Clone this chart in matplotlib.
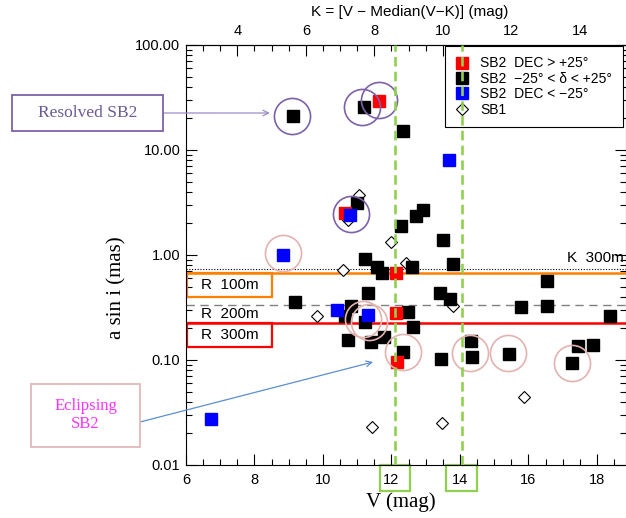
import numpy as np
import matplotlib.pyplot as plt
from matplotlib.patches import Rectangle
from matplotlib import transforms
from matplotlib.ticker import MultipleLocator, LogLocator, FixedLocator, NullFormatter

plt.rcParams["font.family"] = ["Liberation Sans", "DejaVu Sans"]

W, H = 626, 518

# SB2, DEC > +25 deg
red_v = [11.64, 10.64, 12.12, 12.12, 12.15]
red_a = [29.5, 2.50, 0.669, 0.278, 0.095]

# SB2, -25 < dec < +25 deg
blk_v = [9.13, 11.21, 12.34, 10.98, 12.91, 12.72, 12.28, 13.51, 11.24, 11.57,
         11.71, 12.61, 13.80, 16.53, 11.32, 13.42, 13.71, 9.18, 10.81, 10.64,
         11.23, 12.47, 12.64, 15.77, 16.55, 18.38, 10.72, 11.41, 11.79, 12.34,
         13.45, 14.31, 14.36, 15.44, 17.45, 17.89, 17.28]
blk_a = [21.1, 25.4, 15.2, 3.11, 2.71, 2.35, 1.89, 1.39, 0.91, 0.764,
         0.678, 0.764, 0.815, 0.565, 0.432, 0.432, 0.379, 0.359, 0.325, 0.262,
         0.232, 0.288, 0.208, 0.322, 0.327, 0.262, 0.156, 0.147, 0.167, 0.120,
         0.102, 0.153, 0.107, 0.113, 0.137, 0.139, 0.093]

# SB2, DEC < -25 deg
blu_v = [13.68, 10.79, 8.84, 10.42, 11.32, 6.73]
blu_a = [8.03, 2.40, 0.99, 0.30, 0.268, 0.0272]

# SB1
sb1_v = [11.05, 10.74, 11.99, 12.42, 10.59, 9.83, 13.80, 15.87, 11.42, 13.48]
sb1_a = [3.73, 2.15, 1.32, 0.845, 0.712, 0.261, 0.327, 0.0447, 0.0232, 0.0249]

# circled systems
resolved_v = [9.09, 11.13, 11.64, 10.81]
resolved_a = [21.1, 25.9, 29.9, 2.44]
eclipsing_v = [8.84, 11.17, 11.34, 12.34, 14.29, 15.41, 17.26]
eclipsing_a = [1.05, 0.248, 0.230, 0.118, 0.117, 0.117, 0.0946]

# baseline limits (mas) and magnitude limits
lim_k300 = 0.73
lim_r100 = 0.67
lim_r200 = 0.334
lim_r300 = 0.224
v_limits = [12.1, 14.05]
vk_offset = 3.5
k_ticks = [4, 6, 8, 10, 12, 14]


def fx(px):
    return px / W


def fy(py):
    return 1 - py / H


fig = plt.figure(figsize=(W / 100, H / 100), dpi=100)
ax = fig.add_axes([fx(186), fy(465), fx(440), 420 / H])
ax.set_yscale("log")
ax.set_xlim(6, 6 + 440 / 34.25)
ax.set_ylim(0.01, 100)

# reference lines
ax.axhline(lim_k300, color="black", ls=(0, (1, 1.5)), lw=0.8, zorder=1)
ax.axhline(lim_r100, color="#ff7f00", lw=1.8, zorder=1)
ax.axhline(lim_r200, color="#808080", ls=(0, (6, 4)), lw=1.0, zorder=1)
ax.axhline(lim_r300, color="#ff0000", lw=1.8, zorder=1)

ax.add_patch(Rectangle((6.03, 0.398), 2.48, lim_r100 - 0.398, fill=False,
                       ec="#ff7f00", lw=1.6, zorder=2))
ax.add_patch(Rectangle((6.03, 0.133), 2.48, lim_r300 - 0.133, fill=False,
                       ec="#ff0000", lw=1.6, zorder=2))
ax.text(7.27, 0.516, "R  100m", ha="center", va="center", fontsize=11)
ax.text(7.27, 0.272, "R  200m", ha="center", va="center", fontsize=11)
ax.text(7.27, 0.172, "R  300m", ha="center", va="center", fontsize=11)
ax.text(17.12, 0.93, "K  300m", ha="left", va="center", fontsize=11,
        clip_on=False)

# data
sq = dict(marker="s", ls="none", ms=8.5)
h_sb1, = ax.plot(sb1_v, sb1_a, marker="D", ls="none", ms=6, mfc="white",
                 mec="black", mew=0.8, zorder=3, label="SB1")
h_blk, = ax.plot(blk_v, blk_a, color="black", zorder=4,
                 label="SB2  \u221225\u00b0 < \u03b4 < +25\u00b0", **sq)
h_red, = ax.plot(red_v, red_a, color="#ff0000", zorder=4,
                 label="SB2  DEC > +25\u00b0", **sq)
h_blu, = ax.plot(blu_v, blu_a, color="#0000ff", zorder=4,
                 label="SB2  DEC < \u221225\u00b0", **sq)

ax.plot(resolved_v, resolved_a, "o", mfc="none", mec="#7d62a8", ms=26,
        mew=1.2, zorder=5)
ax.plot(eclipsing_v, eclipsing_a, "o", mfc="none", mec="#e3b3b0", ms=26,
        mew=1.2, zorder=5)

for v in v_limits:
    ax.axvline(v, color="#8fd14f", ls=(0, (3.6, 2.0)), lw=1.9, zorder=7)

leg = ax.legend(handles=[h_red, h_blk, h_blu, h_sb1], loc="upper left",
                bbox_to_anchor=(fx(445), fy(46)), bbox_transform=fig.transFigure,
                borderaxespad=0, fontsize=10, frameon=True, fancybox=False,
                edgecolor="black", framealpha=1, handlelength=0.9,
                handletextpad=0.9, labelspacing=0.1, borderpad=0.75)
leg.get_frame().set_linewidth(0.8)
leg.set_zorder(6)

# axes, ticks
ax.xaxis.set_major_locator(MultipleLocator(2))
ax.xaxis.set_minor_locator(MultipleLocator(0.5))
ax.yaxis.set_major_locator(FixedLocator([0.01, 0.1, 1, 10, 100]))
ax.yaxis.set_minor_locator(LogLocator(base=10, subs=np.arange(2, 10)))
ax.yaxis.set_minor_formatter(NullFormatter())
ax.set_yticklabels(["0.01", "0.10", "1.00", "10.00", "100.00"])
ax.tick_params(which="both", direction="in", top=False, right=True,
               labelsize=10.5, width=0.8)
ax.tick_params(which="major", length=8)
ax.tick_params(which="minor", length=4)
ax.tick_params(axis="x", pad=6)
ax.tick_params(axis="y", pad=4)

secax = ax.secondary_xaxis("top", functions=(lambda v: v - vk_offset,
                                             lambda k: k + vk_offset))
secax.xaxis.set_major_locator(FixedLocator(k_ticks))
secax.xaxis.set_minor_locator(FixedLocator(np.arange(3, 15.5, 0.5)))
secax.tick_params(which="both", direction="in", labelsize=10.5, width=0.8, pad=5)
secax.tick_params(which="major", length=8)
secax.tick_params(which="minor", length=4)

fig.text(fx(410), fy(12), "K = [V \u2212 Median(V\u2212K)] (mag)", ha="center",
         va="center", fontsize=11)
fig.text(fx(117), fy(288), "a sin i (mas)", rotation=90, ha="center",
         va="center", fontsize=15, family="Liberation Serif")
fig.text(fx(401), fy(502), "V (mag)", ha="center", va="center", fontsize=15,
         family="Liberation Serif")

# green boxes around the 12 and 14 labels
blend = transforms.blended_transform_factory(ax.transData, fig.transFigure)
for v in v_limits:
    ax.add_patch(Rectangle((v - 0.45, fy(491)), 0.9, 26 / H, fill=False,
                           ec="#8fd14f", lw=1.6, transform=blend, clip_on=False))

# annotations
fig.patches.append(Rectangle((fx(12), fy(131)), fx(151), 36 / H, fill=False,
                             ec="#7d62a8", lw=1.3, transform=fig.transFigure))
fig.text(fx(87.5), fy(113), "Resolved SB2", ha="center", va="center",
         fontsize=12.5, color="#6a5a96", family="Liberation Serif")
ax.annotate("", xy=(8.45, 22.5), xycoords="data",
            xytext=(fx(163), fy(113)), textcoords="figure fraction",
            arrowprops=dict(arrowstyle="->", color="#9d8cc6", lw=0.9,
                            shrinkA=0, shrinkB=0), annotation_clip=False)

fig.patches.append(Rectangle((fx(31), fy(447)), fx(109), 63 / H, fill=False,
                             ec="#e3b9b9", lw=1.3, transform=fig.transFigure))
fig.text(fx(85.5), fy(415), "Eclipsing\nSB2", ha="center", va="center",
         fontsize=12, color="#ff33ff", family="Liberation Serif",
         linespacing=1.25)
ax.annotate("", xy=(11.46, 0.0957), xycoords="data",
            xytext=(fx(140), fy(422)), textcoords="figure fraction",
            arrowprops=dict(arrowstyle="->", color="#5a8ed0", lw=0.9,
                            shrinkA=0, shrinkB=0), annotation_clip=False)

fig.savefig("out.png", dpi=100)
